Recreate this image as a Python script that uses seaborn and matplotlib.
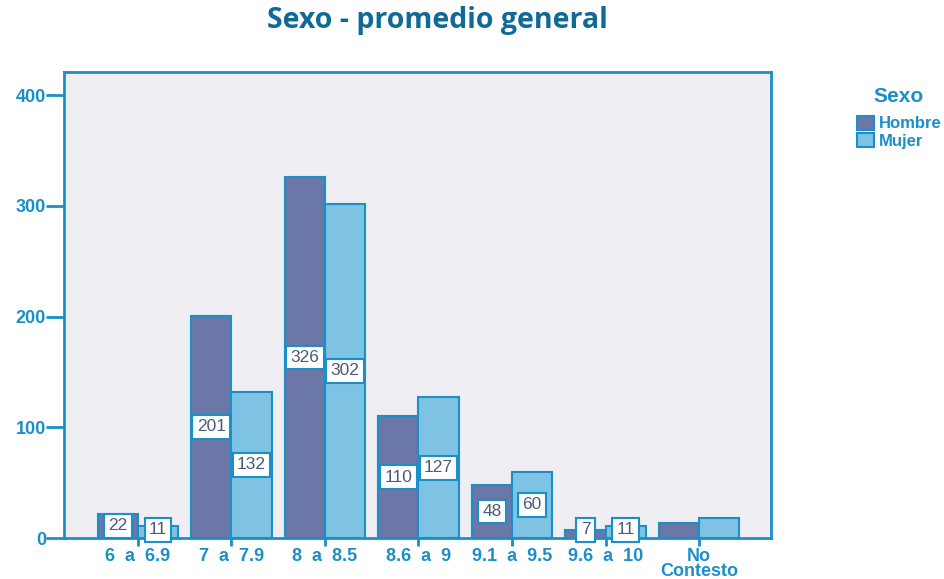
import matplotlib
matplotlib.use('Agg')
import matplotlib.pyplot as plt
import seaborn as sns
import pandas as pd

# Datos
categorias = ['6  a  6.9', '7  a  7.9', '8  a  8.5', '8.6  a  9', '9.1  a  9.5', '9.6  a  10', 'No\nContesto']
hombre = [22, 201, 326, 110, 48, 7, 14]
mujer = [11, 132, 302, 127, 60, 11, 18]
mostrar_etiqueta = [True, True, True, True, True, True, False]

azul = '#1a8fc8'
colores = {'Hombre': '#6b77a6', 'Mujer': '#7ec3e3'}

df = pd.DataFrame({
    'cat': categorias * 2,
    'valor': hombre + mujer,
    'Sexo': ['Hombre'] * len(categorias) + ['Mujer'] * len(categorias),
})

sns.set_style('white')
plt.rcParams['font.family'] = ['Liberation Sans', 'DejaVu Sans']

fig = plt.figure(figsize=(9.45, 5.79), dpi=100)
ax = fig.add_axes([0.0677, 0.0708, 0.7483, 0.8048])
ax.set_facecolor('#eeeef3')

sns.barplot(data=df, x='cat', y='valor', hue='Sexo', order=categorias,
            hue_order=['Hombre', 'Mujer'], palette=colores, width=0.86,
            edgecolor=azul, linewidth=1.5, saturation=1, ax=ax, legend=True)

# etiquetas de valor en cajas blancas, a media altura de cada barra
for cont, vals in zip(ax.containers, [hombre, mujer]):
    for barra, v, ok in zip(cont, vals, mostrar_etiqueta):
        if not ok:
            continue
        xc = barra.get_x() + barra.get_width() / 2
        ax.text(xc, max(v / 2, 7.5), str(v), ha='center', va='center',
                fontsize=12.5, color='#4a5a78',
                bbox=dict(boxstyle='square,pad=0.25', fc='white', ec=azul, lw=1.5))

ax.set_xlim(-0.79, 6.77)
ax.set_ylim(0, 421)
ax.set_yticks([0, 100, 200, 300, 400])
ax.set_xlabel('')
ax.set_ylabel('')
for s in ax.spines.values():
    s.set_color(azul)
    s.set_linewidth(2)
ax.tick_params(axis='y', left=True, direction='out', length=13, width=2, color=azul,
               labelcolor=azul, labelsize=13, pad=0)
ax.tick_params(axis='x', bottom=True, direction='inout', length=12, width=2, color=azul,
               labelcolor=azul, labelsize=13, pad=1)
for t in ax.get_xticklabels() + ax.get_yticklabels():
    t.set_fontweight('bold')
    t.set_linespacing(0.85)

leg = ax.legend(title='Sexo', loc='upper left', bbox_to_anchor=(1.1, 1.0),
                frameon=False, fontsize=12, title_fontsize=15,
                handlelength=1.0, handleheight=0.9, handletextpad=0.3,
                labelspacing=0.1)
leg.get_title().set_color(azul)
leg.get_title().set_fontweight('bold')
leg._legend_box.sep = 7
for t in leg.get_texts():
    t.set_color(azul)
    t.set_fontweight('bold')

fig.suptitle('Sexo - promedio general', x=0.463, y=0.99, fontsize=20.5,
             fontweight='bold', color='#0f6a96', family='Open Sans')

plt.savefig('out.png', dpi=100)
